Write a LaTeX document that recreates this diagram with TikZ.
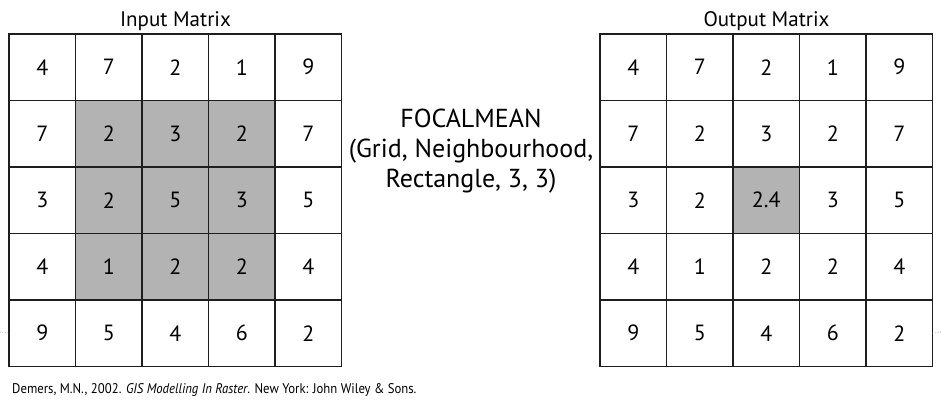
\documentclass[tikz,border=0pt]{standalone}
\usepackage{fontspec}
\setmainfont{PT Sans}
\usepackage{tikz}
\usetikzlibrary{positioning}
\usetikzlibrary{backgrounds}
\definecolor{cellgray}{HTML}{B3B3B3}
\definecolor{gridline}{HTML}{1E1E1E}
\tikzset{cell/.style={draw=gridline, line width=1.5pt, minimum size=66.5pt, inner sep=0, outer sep=0, font=\fontsize{22}{26}\selectfont}}
\tikzset{title/.style={draw=none, inner sep=0, font=\fontsize{21}{25}\selectfont}}

\begin{document}
\begin{tikzpicture}[x=1pt, y=-1pt]
\useasboundingbox (0,0) rectangle (942,400);
% input grid
\foreach \row [count=\r] in {{4,7,2,1,9},{7,2,3,2,7},{3,2,5,3,5},{4,1,2,2,4},{9,5,4,6,2}}
  \foreach \v [count=\c] in \row
    \node [cell] (in-\r-\c) at ({9+66.5*(\c-0.5)}, {34+66.5*(\r-0.5)}) {\v};
% output grid
\foreach \row [count=\r] in {{4,7,2,1,9},{7,2,3,2,7},{3,2,2.4,3,5},{4,1,2,2,4},{9,5,4,6,2}}
  \foreach \v [count=\c] in \row
    \node [cell] (out-\r-\c) at ({600+66.5*(\c-0.5)}, {34+66.5*(\r-0.5)}) {\v};
\begin{scope}[on background layer]
\fill [cellgray] (in-2-2.north west) rectangle (in-4-4.south east);
\fill [cellgray] (out-3-3.north west) rectangle (out-3-3.south east);
\end{scope}
\node [title, anchor=base] (intitle) at (175.5, 26.5) {Input Matrix};
\node [title, anchor=base] (outtitle) at (766.5, 26.5) {Output Matrix};
\node [draw=none, inner sep=0, align=center, anchor=base, font=\fontsize{26}{30}\selectfont] (func) at (471, 187) {FOCALMEAN\\(Grid, Neighbourhood,\\Rectangle, 3, 3)};
\node [draw=none, inner sep=0, anchor=base west, font=\fontsize{14}{16}\selectfont] (cite) at (12, 393) {\scalebox{0.91}[1]{Demers, M.N., 2002. \emph{GIS Modelling In Raster}. New York: John Wiley \& Sons.}};
%\draw [dotted] edges
\coordinate (lend) at (0, 332);
\coordinate (rend) at (942, 332);
\draw [gray, dotted, line width=0.6pt] (lend) -- (in-5-1.west);
\draw [gray, dotted, line width=0.6pt] (out-5-5.east) -- (rend);
\end{tikzpicture}
\end{document}
